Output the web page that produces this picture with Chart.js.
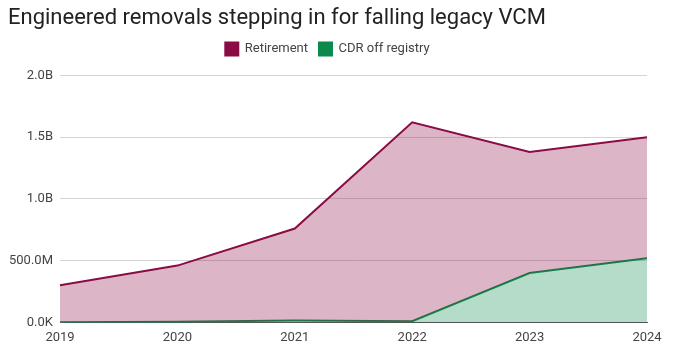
<!DOCTYPE html>
<html>
<head>
<meta charset="utf-8">
<script src="https://cdn.jsdelivr.net/npm/chart.js@4"></script>
<style>
  html, body { margin: 0; padding: 0; background: #fff; }
  #wrap { width: 680px; height: 354px; position: relative; }
</style>
</head>
<body>
<div id="wrap"><canvas id="chart"></canvas></div>
<script>
const years = ["2019", "2020", "2021", "2022", "2023", "2024"];
const retirement = [0.30e9, 0.46e9, 0.76e9, 1.62e9, 1.38e9, 1.50e9];
const cdrOffRegistry = [0.002e9, 0.005e9, 0.015e9, 0.01e9, 0.40e9, 0.52e9];

function fmt(v) {
    if (v === 0) return "0.0K";
    if (v >= 1e9) return (v / 1e9).toFixed(1) + "B";
    if (v >= 1e6) return (v / 1e6).toFixed(1) + "M";
    return (v / 1e3).toFixed(1) + "K";
}

// extra room under the legend
const legendGap = {
    id: "legendGap",
    beforeInit(chart) {
        const origFit = chart.legend.fit;
        chart.legend.fit = function () {
            origFit.bind(chart.legend)();
            this.height += 10;
        };
    }
};

new Chart(document.getElementById("chart"), {
    type: "line",
    data: {
        labels: years,
        datasets: [
            {
                label: "Retirement",
                data: retirement,
                borderColor: "#8a0c45",
                backgroundColor: "#8a0c45",
                borderWidth: 2,
                pointRadius: 0,
                fill: { target: "+1", above: "rgba(138,12,69,0.3)", below: "rgba(138,12,69,0.3)" },
                tension: 0
            },
            {
                label: "CDR off registry",
                data: cdrOffRegistry,
                borderColor: "#0b8a4b",
                backgroundColor: "#0b8a4b",
                borderWidth: 2,
                pointRadius: 0,
                fill: { target: "origin", above: "rgba(11,138,75,0.3)" },
                tension: 0
            }
        ]
    },
    plugins: [legendGap],
    options: {
        responsive: true,
        maintainAspectRatio: false,
        animation: false,
        layout: { padding: { left: 8, right: 33, top: 4, bottom: 0 } },
        plugins: {
            title: {
                display: true,
                text: "Engineered removals stepping in for falling legacy VCM",
                align: "start",
                color: "#222",
                font: { family: "Roboto", size: 22, weight: "normal" },
                padding: { top: 1, bottom: 0 }
            },
            legend: {
                labels: {
                    boxWidth: 13,
                    boxHeight: 13,
                    color: "#444",
                    font: { family: "Roboto", size: 13 },
                    padding: 11
                }
            },
            tooltip: { enabled: false }
        },
        scales: {
            x: {
                grid: { display: false, drawTicks: false },
                border: { display: true, color: "#555", width: 1 },
                ticks: { color: "#444", font: { family: "Roboto", size: 13 }, padding: 8, maxRotation: 0 }
            },
            y: {
                min: 0,
                max: 2e9,
                afterFit: (s) => { s.width = 52; },
                grid: { color: "#d4d4d4", drawTicks: false },
                border: { display: false },
                ticks: {
                    stepSize: 5e8,
                    color: "#444",
                    font: { family: "Roboto", size: 13 },
                    padding: 7,
                    callback: (v) => fmt(v)
                }
            }
        }
    }
});
</script>
</body>
</html>
